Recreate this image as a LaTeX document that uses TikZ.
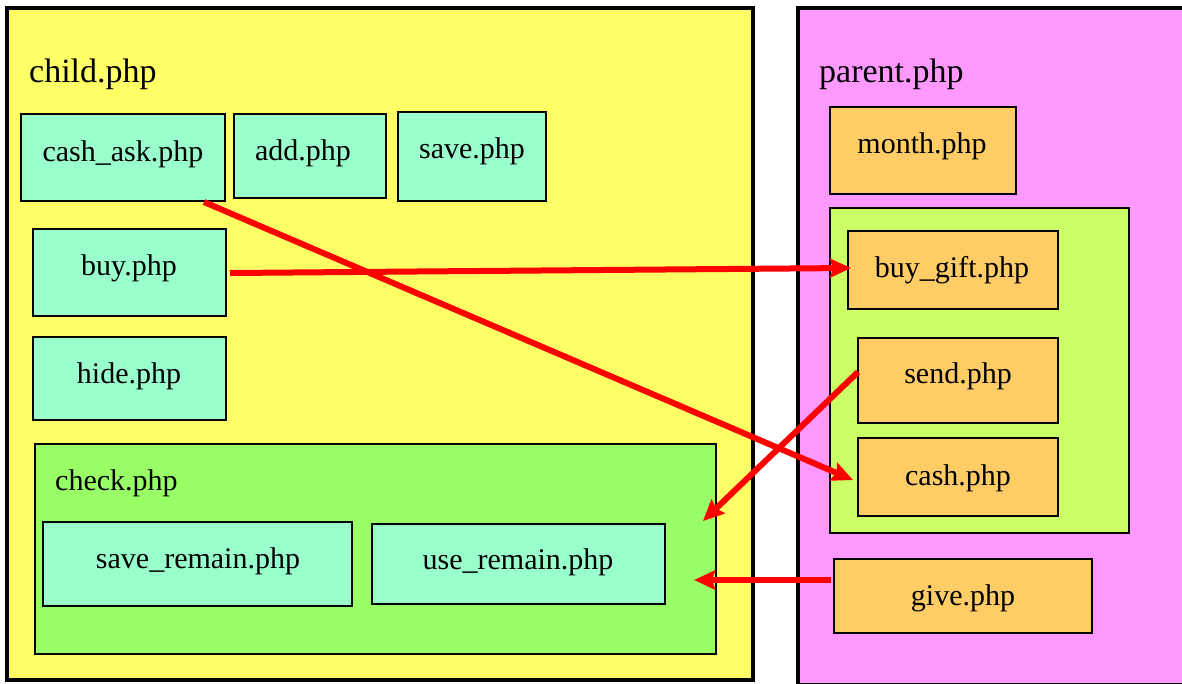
\documentclass[tikz,border=0pt]{standalone}
\usepackage{fontspec}
\setmainfont{Liberation Serif}
\usetikzlibrary{arrows.meta,fit}

\definecolor{childbg}{HTML}{FFFF66}
\definecolor{parentbg}{HTML}{FF99FF}
\definecolor{mint}{HTML}{99FFCC}
\definecolor{checkbg}{HTML}{99FF66}
\definecolor{limebg}{HTML}{CCFF66}
\definecolor{orangebox}{HTML}{FFCC66}
\definecolor{linkred}{HTML}{FF0000}

\tikzset{
  area/.style={draw=black, line width=3.5pt, inner sep=0pt},
  group/.style={draw=black, line width=2pt, inner sep=0pt},
  filebox/.style={draw=black, line width=2pt, inner sep=0pt},
  cfile/.style={filebox, fill=mint},
  pfile/.style={filebox, fill=orangebox},
  title/.style={anchor=base west, inner sep=0pt, font=\fontsize{34}{40}\selectfont},
  subtitle/.style={anchor=base west, inner sep=0pt, font=\fontsize{30}{36}\selectfont},
  fname/.style={anchor=base, inner sep=0pt, font=\fontsize{30}{36}\selectfont},
  link/.style={draw=linkred, line width=6pt,
    -{Stealth[length=21pt, width=19pt, inset=3pt]}},
}

% a named rectangle given by its top-left and bottom-right corners
\newcommand{\boxat}[4]{%
  \path (#3) coordinate (#2-nw) (#4) coordinate (#2-se);
  \node[#1, fit=(#2-nw)(#2-se)] (#2) {};
}

\begin{document}
\begin{tikzpicture}[x=1pt, y=-1pt]
  \useasboundingbox (0,0) rectangle (1182,683);
  \clip (0,0) rectangle (1182,683);

  % the two top-level areas
  \boxat{area, fill=childbg}{child}{7,8}{753,680}
  \boxat{area, fill=parentbg}{parent}{798,8}{1183.5,684.5}
  \node[title] (childlbl) at (29,82) {child.php};
  \node[title] (parentlbl) at (819,82) {parent.php};

  % child.php files
  \boxat{cfile}{cashask}{21,114}{225,201}
  \node[fname] (cashasktxt) at (123,161) {cash\_ask.php};
  \boxat{cfile}{add}{234,114}{386,198}
  \node[fname] (addtxt) at (303,160) {add.php};
  \boxat{cfile}{save}{398,112}{546,201}
  \node[fname] (savetxt) at (472,158) {save.php};
  \boxat{cfile}{buy}{33,229}{226,316}
  \node[fname] (buytxt) at (129,275) {buy.php};
  \boxat{cfile}{hide}{33,337}{226,420}
  \node[fname] (hidetxt) at (129,383) {hide.php};

  % check.php group
  \boxat{group, fill=checkbg}{check}{35,444}{716,654}
  \node[subtitle] (checklbl) at (55,490) {check.php};
  \boxat{cfile}{saveremain}{43,522}{352,606}
  \node[fname] (saveremaintxt) at (198,568) {save\_remain.php};
  \boxat{cfile}{useremain}{372,524}{665,604}
  \node[fname] (useremaintxt) at (518,569) {use\_remain.php};

  % parent.php files
  \boxat{pfile}{month}{830,107}{1016,194}
  \node[fname] (monthtxt) at (922,153) {month.php};
  \boxat{group, fill=limebg}{gift}{830,208}{1129,533}
  \boxat{pfile}{buygift}{848,231}{1058,309}
  \node[fname] (buygifttxt) at (952,277) {buy\_gift.php};
  \boxat{pfile}{send}{858,338}{1058,423}
  \node[fname] (sendtxt) at (958,383) {send.php};
  \boxat{pfile}{cash}{858,438}{1058,516}
  \node[fname] (cashtxt) at (958,485) {cash.php};
  \boxat{pfile}{give}{834,559}{1092,633}
  \node[fname] (givetxt) at (963,605) {give.php};

  % free ends of the links
  \coordinate (sendin) at (703,521);
  \coordinate (givein) at (694,580);

  % links between the two areas
  \draw[link] ([xshift=-22pt]cashask.south east) -- ([xshift=-4pt, yshift=-3pt]cash.west);
  \draw[link] ([xshift=3pt, yshift=-0.5pt]buy.east) -- ([xshift=4pt, yshift=2pt]buygift.west);
  \draw[link] ([xshift=1pt, yshift=8.5pt]send.west) -- (sendin);
  \draw[link] ([xshift=-2pt, yshift=16pt]give.west) -- (givein);
\end{tikzpicture}
\end{document}
